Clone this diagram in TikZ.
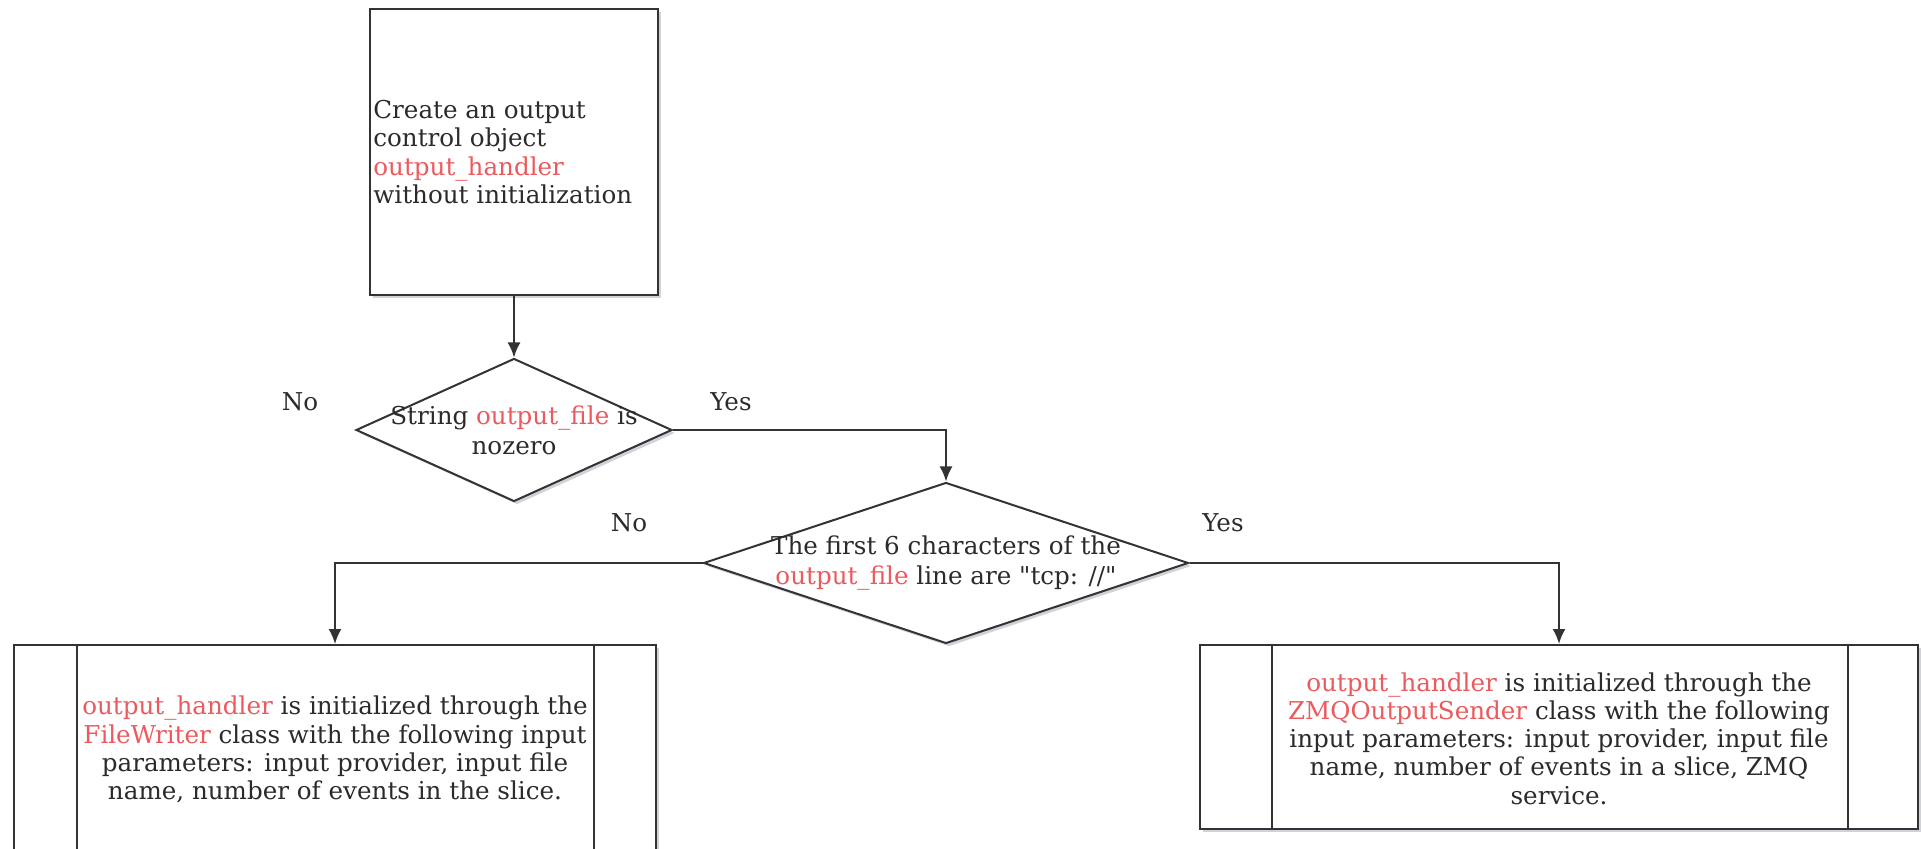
\documentclass[tikz,border=0pt]{standalone}
\usepackage{fontspec}
\setmainfont{DejaVu Serif}[Ligatures=TeXOff]
\usetikzlibrary{shapes.geometric,arrows.meta,shadows}
\definecolor{linegray}{HTML}{333333}
\definecolor{txtgray}{HTML}{2B2B2B}
\definecolor{hlred}{HTML}{EA5A5E}
\newcommand{\hl}[1]{\textcolor{hlred}{#1}}
\tikzset{
	box/.style={draw=linegray, line width=1pt, fill=white, inner sep=0pt,
		drop shadow={shadow xshift=1.5pt, shadow yshift=-1.5pt, fill=blue!20!black, opacity=0.18}},
	decision/.style={diamond, draw=linegray, line width=1pt, fill=white, inner sep=0pt,
		drop shadow={shadow xshift=1.5pt, shadow yshift=-1.5pt, fill=blue!20!black, opacity=0.18}},
	txt/.style={text=txtgray, font=\fontsize{12.3}{14.15}\selectfont, align=center, inner sep=0pt},
	dtxt/.style={txt, font=\fontsize{12.3}{15}\selectfont},
	flow/.style={draw=linegray, line width=1pt, -{Latex[length=7.5pt,width=6.5pt]}},
}
\begin{document}
\begin{tikzpicture}[x=0.5pt, y=-0.5pt]
	\path[use as bounding box, clip] (0,0) rectangle (1921,849);
	
	% Erster Schritt: Objekt anlegen
	\node[box, minimum width=144pt, minimum height=143pt] (create) at (514,152) {};
	\node[txt, anchor=west, align=left] (createtxt) at (373,152)
		{Create an output\\control object\\\hl{output\_handler}\\without initialization};
	
	% Abfragen
	\node[decision, minimum width=158pt, minimum height=71.5pt] (nonzero) at (514,430) {};
	\node[dtxt] (nonzerotxt) at (nonzero) {String \hl{output\_file} is\\nozero};
	
	\node[decision, minimum width=242.5pt, minimum height=80.5pt] (tcp) at (946,563) {};
	\node[dtxt] (tcptxt) at (tcp) {The first 6 characters of the\\\hl{output\_file} line are "tcp: //"};
	
	% Initialisierung (links FileWriter, rechts ZMQ)
	\node[box, minimum width=321pt, minimum height=104.5pt] (filew) at (335,749.5) {};
	\node[txt] (filewtxt) at (335,749.5)
		{\hl{output\_handler} is initialized through the\\\hl{FileWriter} class with the following input\\parameters: input provider, input file\\name, number of events in the slice.};
	
	\node[box, minimum width=359pt, minimum height=92pt] (zmq) at (1559,737) {};
	\node[txt] (zmqtxt) at (1559,738.5)
		{\hl{output\_handler} is initialized through the\\\hl{ZMQOutputSender} class with the following\\input parameters: input provider, input file\\name, number of events in a slice, ZMQ\\service.};
	
	% Seitenstreifen der Prozesskaesten
	\draw[linegray, line width=1pt] ([xshift=32pt]filew.north west) -- ([xshift=32pt]filew.south west);
	\draw[linegray, line width=1pt] ([xshift=-31.5pt]filew.north east) -- ([xshift=-31.5pt]filew.south east);
	\draw[linegray, line width=1pt] ([xshift=36.5pt]zmq.north west) -- ([xshift=36.5pt]zmq.south west);
	\draw[linegray, line width=1pt] ([xshift=-35.5pt]zmq.north east) -- ([xshift=-35.5pt]zmq.south east);
	
	% Verbindungen
	\draw[flow] (create.south) -- (nonzero.north);
	\draw[flow] (nonzero.east) -| (tcp.north);
	\draw[flow] (tcp.west) -| (filew.north);
	\draw[flow] (tcp.east) -| (zmq.north);
	
	% Beschriftungen
	\node[txt] (no1) at (300,402) {No};
	\node[txt] (yes1) at (731,402) {Yes};
	\node[txt] (no2) at (629,523) {No};
	\node[txt] (yes2) at (1223,523) {Yes};
\end{tikzpicture}
\end{document}
